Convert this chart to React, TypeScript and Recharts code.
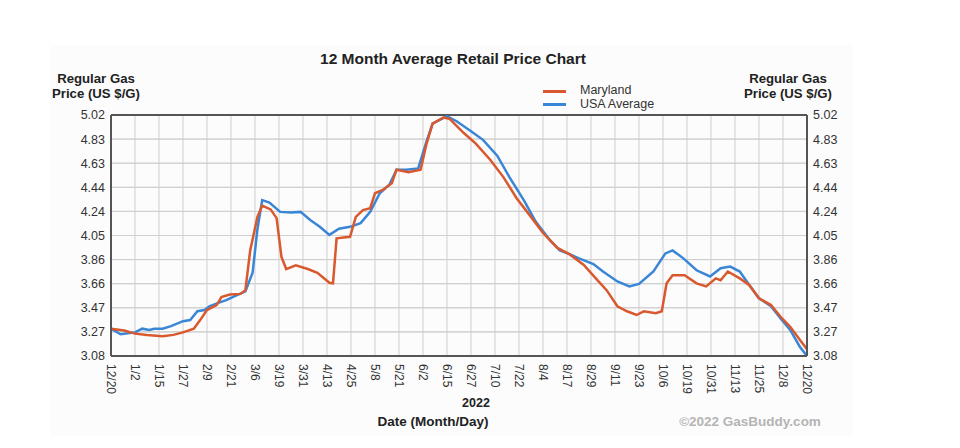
import React from "react";
import { LineChart, Line, XAxis, YAxis, CartesianGrid, ReferenceLine } from "recharts";

// x positions are in units of the evenly spaced date labels (0 = 12/20/2021, 29 = 12/20/2022)
const dateLabels = [
  "12/20", "1/2", "1/15", "1/27", "2/9", "2/21", "3/6", "3/19", "3/31", "4/13",
  "4/25", "5/8", "5/21", "6/2", "6/15", "6/27", "7/10", "7/22", "8/4", "8/17",
  "8/29", "9/11", "9/23", "10/6", "10/19", "10/31", "11/13", "11/25", "12/8", "12/20",
];
const xTicks = dateLabels.map((_, i) => i);

const yTicks = [3.08, 3.274, 3.468, 3.662, 3.856, 4.05, 4.244, 4.438, 4.632, 4.826, 5.02];

const marylandPos = [
  0, 0.55, 1.0, 1.5, 2.15, 2.6, 3.0, 3.45, 3.7, 4.0, 4.4, 4.6, 4.95, 5.4, 5.6, 5.8, 6.1, 6.3, 6.65, 6.9,
  7.1, 7.3, 7.7, 8.2, 8.6, 9.1, 9.25, 9.4, 9.96, 10.2, 10.5, 10.8, 11.0, 11.35, 11.7, 11.9, 12.4, 12.9, 13.15, 13.4,
  13.85, 14.1, 14.7, 15.2, 15.8, 16.35, 16.9, 17.5, 18.0, 18.6, 19.1, 19.7, 20.2, 20.65, 21.1, 21.5, 21.9, 22.2, 22.7, 22.95,
  23.15, 23.4, 23.9, 24.4, 24.8, 25.2, 25.4, 25.7, 26.2, 26.6, 27.0, 27.5, 27.9, 28.3, 28.7, 29.0,
];
const marylandPrice = [
  3.30, 3.285, 3.26, 3.25, 3.24, 3.25, 3.27, 3.30, 3.365, 3.45, 3.49, 3.555, 3.575, 3.58, 3.61, 3.93, 4.20, 4.29, 4.26, 4.19,
  3.88, 3.78, 3.81, 3.78, 3.75, 3.67, 3.665, 4.027, 4.04, 4.20, 4.255, 4.27, 4.39, 4.42, 4.47, 4.58, 4.56, 4.58, 4.79, 4.95,
  5.00, 4.99, 4.875, 4.79, 4.66, 4.52, 4.35, 4.20, 4.07, 3.95, 3.90, 3.813, 3.705, 3.61, 3.48, 3.44, 3.41, 3.44, 3.425, 3.44,
  3.665, 3.73, 3.73, 3.665, 3.64, 3.705, 3.69, 3.76, 3.705, 3.65, 3.545, 3.49, 3.396, 3.316, 3.21, 3.135,
];

const usaPos = [
  0, 0.4, 1.0, 1.3, 1.6, 1.8, 2.15, 2.5, 3.0, 3.3, 3.6, 3.9, 4.1, 4.5, 4.8, 5.25, 5.6, 5.9, 6.1, 6.3,
  6.6, 7.05, 7.5, 7.9, 8.3, 8.7, 9.1, 9.5, 9.96, 10.4, 10.8, 11.2, 11.6, 11.9, 12.3, 12.8, 13.15, 13.4, 14.0, 14.4,
  15.0, 15.5, 16.1, 16.6, 17.2, 17.7, 18.3, 18.7, 19.1, 19.5, 20.1, 20.5, 21.1, 21.6, 22.0, 22.6, 23.1, 23.4, 23.85, 24.4,
  24.96, 25.4, 25.8, 26.2, 26.6, 27.0, 27.5, 27.9, 28.3, 28.7, 29.0,
];
const usaPrice = [
  3.30, 3.255, 3.27, 3.30, 3.29, 3.30, 3.30, 3.32, 3.36, 3.37, 3.44, 3.45, 3.48, 3.51, 3.53, 3.57, 3.60, 3.75, 4.10, 4.335,
  4.315, 4.24, 4.235, 4.24, 4.175, 4.12, 4.055, 4.105, 4.12, 4.15, 4.24, 4.39, 4.46, 4.58, 4.58, 4.59, 4.81, 4.95, 5.01, 4.97,
  4.89, 4.82, 4.69, 4.52, 4.335, 4.16, 4.01, 3.93, 3.90, 3.866, 3.82, 3.76, 3.68, 3.64, 3.66, 3.76, 3.906, 3.93, 3.866, 3.77,
  3.72, 3.786, 3.80, 3.76, 3.65, 3.545, 3.48, 3.383, 3.29, 3.155, 3.08,
];

const marylandData = marylandPos.map((u, i) => ({ u, v: marylandPrice[i] }));
const usaData = usaPos.map((u, i) => ({ u, v: usaPrice[i] }));

const RED = "#d9582e";
const BLUE = "#3a86d6";
const GRID = "#cfcfcf";
const FONT = "'Liberation Sans', Arial, sans-serif";

const XTick = (props: any) => {
  const { x, y, payload } = props;
  return (
    <text
      x={x}
      y={y}
      dy="0.35em"
      transform={`rotate(90, ${x}, ${y})`}
      textAnchor="start"
      fontSize={12}
      fill="#333"
      fontFamily={FONT}
    >
      {dateLabels[payload.value]}
    </text>
  );
};

const abs = (l: number, t: number, extra: React.CSSProperties = {}): React.CSSProperties => ({
  position: "absolute",
  left: l,
  top: t,
  fontFamily: FONT,
  whiteSpace: "nowrap",
  ...extra,
});

export default function App() {
  return (
    <div style={{ position: "relative", width: 944, height: 432, background: "#fff" }}>
      <div style={{ position: "absolute", left: 42, top: 37, width: 803, height: 391, background: "#fcfcfc" }} />
      <div style={abs(0, 0)}>
        <LineChart
          width={944}
          height={432}
          margin={{ top: 107, left: 53, right: 95, bottom: 44 }}
        >
          <CartesianGrid yAxisId="left" stroke={GRID} strokeWidth={1} />
          <ReferenceLine yAxisId="left" y={yTicks[1]} stroke={GRID} strokeWidth={1} ifOverflow="extendDomain" />
          <ReferenceLine yAxisId="left" y={yTicks[2]} stroke={GRID} strokeWidth={1} ifOverflow="extendDomain" />
          <ReferenceLine yAxisId="left" y={yTicks[3]} stroke={GRID} strokeWidth={1} ifOverflow="extendDomain" />
          <ReferenceLine yAxisId="left" y={yTicks[4]} stroke={GRID} strokeWidth={1} ifOverflow="extendDomain" />
          <ReferenceLine yAxisId="left" y={yTicks[5]} stroke={GRID} strokeWidth={1} ifOverflow="extendDomain" />
          <ReferenceLine yAxisId="left" y={yTicks[6]} stroke={GRID} strokeWidth={1} ifOverflow="extendDomain" />
          <ReferenceLine yAxisId="left" y={yTicks[7]} stroke={GRID} strokeWidth={1} ifOverflow="extendDomain" />
          <ReferenceLine yAxisId="left" y={yTicks[8]} stroke={GRID} strokeWidth={1} ifOverflow="extendDomain" />
          <ReferenceLine yAxisId="left" y={yTicks[9]} stroke={GRID} strokeWidth={1} ifOverflow="extendDomain" />
          <XAxis
            dataKey="u"
            type="number"
            domain={[0, 29]}
            ticks={xTicks}
            interval={0}
            tick={<XTick />}
            tickLine={false}
            tickSize={0}
            tickMargin={8}
            height={40}
            axisLine={{ stroke: "#555", strokeWidth: 2 }}
            allowDuplicatedCategory={false}
          />
          <YAxis
            yAxisId="left"
            orientation="left"
            type="number"
            domain={[3.08, 5.02]}
            ticks={yTicks}
            interval={0}
            width={50}
            tickLine={false}
            tickSize={0}
            tickMargin={6}
            tickFormatter={(v: number) => v.toFixed(2)}
            tick={{ fontSize: 12.5, fill: "#333", fontFamily: FONT }}
            axisLine={{ stroke: "#555", strokeWidth: 2 }}
            allowDataOverflow
          />
          <YAxis
            yAxisId="right"
            orientation="right"
            type="number"
            domain={[3.08, 5.02]}
            ticks={yTicks}
            interval={0}
            width={50}
            tickLine={false}
            tickSize={0}
            tickMargin={6}
            tickFormatter={(v: number) => v.toFixed(2)}
            tick={{ fontSize: 12.5, fill: "#333", fontFamily: FONT, textAnchor: "start" }}
            axisLine={{ stroke: "#555", strokeWidth: 2 }}
            allowDataOverflow
          />
          <ReferenceLine yAxisId="left" y={5.02} stroke="#555" strokeWidth={2} />
          <Line
            yAxisId="right"
            data={usaData}
            dataKey="v"
            type="linear"
            stroke={BLUE}
            strokeWidth={2.5}
            dot={false}
            isAnimationActive={false}
          />
          <Line
            yAxisId="left"
            data={marylandData}
            dataKey="v"
            type="linear"
            stroke={RED}
            strokeWidth={2.5}
            dot={false}
            isAnimationActive={false}
          />
        </LineChart>
      </div>

      <div style={abs(245, 42, { width: 400, textAlign: "center", fontWeight: "bold", fontSize: 15.5, color: "#222" })}>
        12 Month Average Retail Price Chart
      </div>

      <div style={abs(38, 64, { width: 100, textAlign: "center", fontWeight: "bold", fontSize: 13.2, lineHeight: "14.5px", color: "#222" })}>
        Regular Gas
        <br />
        Price (US $/G)
      </div>
      <div style={abs(730, 64, { width: 100, textAlign: "center", fontWeight: "bold", fontSize: 13.2, lineHeight: "14.5px", color: "#222" })}>
        Regular Gas
        <br />
        Price (US $/G)
      </div>

      <div style={abs(535, 82, { width: 23, height: 3, background: RED })} />
      <div style={abs(535, 95, { width: 23, height: 3, background: BLUE })} />
      <div style={abs(572, 76, { fontSize: 12.5, lineHeight: "13px", color: "#333" })}>Maryland</div>
      <div style={abs(572, 90, { fontSize: 12.5, lineHeight: "13px", color: "#333" })}>USA Average</div>

      <div style={abs(418, 388, { width: 100, textAlign: "center", fontWeight: "bold", fontSize: 12.5, color: "#222" })}>
        2022
      </div>
      <div style={abs(325, 406, { width: 200, textAlign: "center", fontWeight: "bold", fontSize: 13.5, color: "#222" })}>
        Date (Month/Day)
      </div>
      <div style={abs(642, 406, { width: 200, textAlign: "center", fontWeight: "bold", fontSize: 13.5, color: "#b4b4b4" })}>
        ©2022 GasBuddy.com
      </div>
    </div>
  );
}
